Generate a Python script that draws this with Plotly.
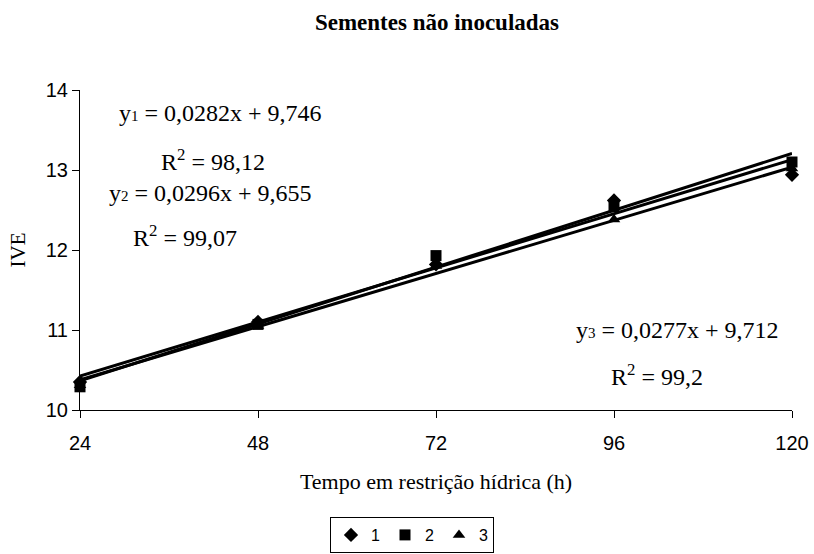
import plotly.graph_objects as go

x_vals = [24, 48, 72, 96, 120]
s1 = [10.35, 11.10, 11.82, 12.62, 12.94]
s2 = [10.29, 11.07, 11.93, 12.54, 13.10]
s3 = [10.31, 11.05, 11.80, 12.38, 13.02]
series_names = ["1", "2", "3"]
symbols = ["diamond", "square", "triangle-up"]
slopes = [0.0282, 0.0296, 0.0277]
intercepts = [9.746, 9.655, 9.712]
eq_text = [
    ("y<span style='font-size:15px'>1</span> = 0,0282x + 9,746", "R<sup>2</sup> = 98,12"),
    ("y<span style='font-size:15px'>2</span> = 0,0296x + 9,655", "R<sup>2</sup> = 99,07"),
    ("y<span style='font-size:15px'>3</span> = 0,0277x + 9,712", "R<sup>2</sup> = 99,2"),
]

W, H = 814, 554
L, R, T, B = 80, 22, 90, 144

def px(xp, yp):
    return ((xp - L) / (W - L - R), 1 - (yp - T) / (H - T - B))

fig = go.Figure()
xl = [x_vals[0], x_vals[-1]]
for m, b in zip(slopes, intercepts):
    fig.add_trace(go.Scatter(x=xl, y=[m * v + b for v in xl], mode="lines",
                             line=dict(color="black", width=3), showlegend=False,
                             hoverinfo="skip", cliponaxis=False))
for ys, nm, sym in zip([s1, s2, s3], series_names, symbols):
    fig.add_trace(go.Scatter(x=x_vals, y=ys, mode="markers", name=nm,
                             marker=dict(symbol=sym, size=11, color="black"),
                             cliponaxis=False))

serif = "Liberation Serif, Times New Roman, serif"
sans = "Liberation Sans, Arial, sans-serif"
ann = []
pos = [((220, 113), (213, 160)), ((210, 193), (185, 236)), ((677, 330), (657, 375))]
for (eq, r2), ((ex, ey), (rx, ry)) in zip(eq_text, pos):
    for t, (xx, yy) in ((eq, (ex, ey)), (r2, (rx, ry))):
        a, b = px(xx, yy)
        ann.append(dict(text=t, x=a, y=b, xref="paper", yref="paper",
                        xanchor="center", yanchor="middle",
                        showarrow=False, font=dict(family=serif, size=24, color="black")))

lx, ly = px(412, 535)

fig.update_layout(
    width=W, height=H,
    margin=dict(l=L, r=R, t=T, b=B, autoexpand=False),
    paper_bgcolor="white", plot_bgcolor="white",
    title=dict(text="<b>Sementes não inoculadas</b>", x=437 / W, xanchor="center",
               y=1 - 22 / H, yanchor="middle",
               font=dict(family=serif, size=23, color="black")),
    xaxis=dict(range=[24, 120], tickvals=x_vals, showgrid=False, zeroline=False,
               showline=True, linecolor="black", linewidth=1, ticks="outside",
               ticklen=7, tickcolor="black", ticklabelstandoff=8,
               tickfont=dict(family=sans, size=20, color="black"),
               title=dict(text="Tempo em restrição hídrica (h)", standoff=20,
                          font=dict(family=serif, size=22, color="black"))),
    yaxis=dict(range=[10, 14], tickvals=[10, 11, 12, 13, 14], showgrid=False, zeroline=False,
               showline=True, linecolor="black", linewidth=1, ticks="outside",
               ticklen=7, tickcolor="black",
               tickfont=dict(family=sans, size=20, color="black"),
               title=dict(text="IVE", standoff=14,
                          font=dict(family=serif, size=21, color="black"))),
    legend=dict(orientation="h", x=lx, xanchor="center", y=ly, yanchor="middle",
                bordercolor="black", borderwidth=1, bgcolor="white",
                font=dict(family=sans, size=16, color="black"),
                itemwidth=30, tracegroupgap=0),
    annotations=ann,
    showlegend=True,
)

fig.write_html("out.html")
